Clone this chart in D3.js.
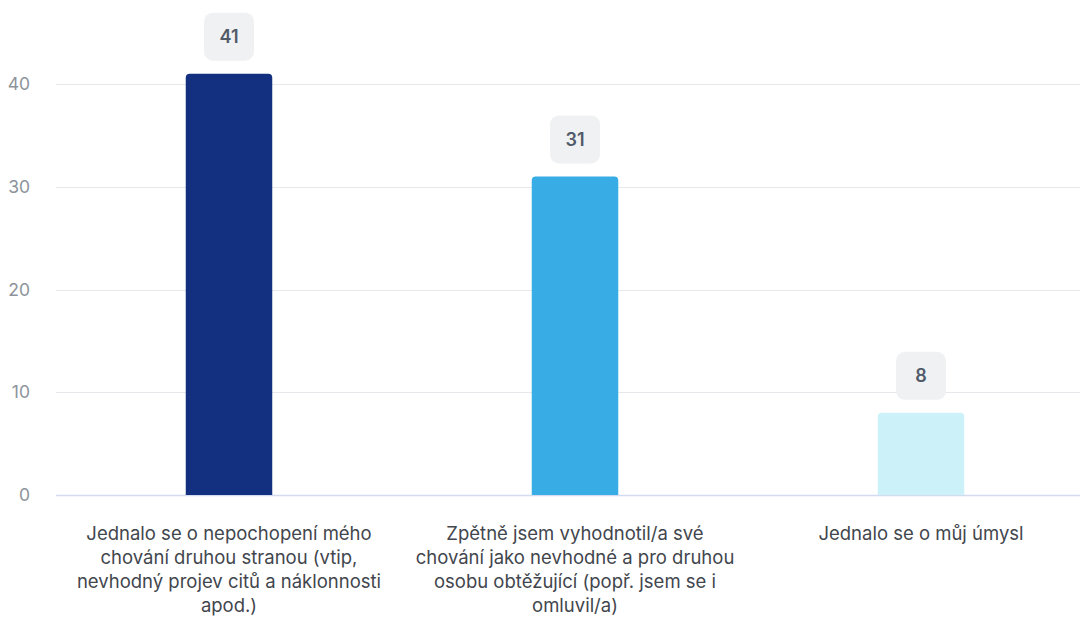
<!DOCTYPE html>
<html>
<head>
<meta charset="utf-8">
<script src="https://cdn.jsdelivr.net/npm/d3@7"></script>
<style>
body{margin:0;background:#fff;font-family:Inter,"Noto Sans",sans-serif}
</style>
</head>
<body>
<div id="chart"></div>
<script>
var categories=["Jednalo se o nepochopení mého chování druhou stranou (vtip, nevhodný projev citů a náklonnosti apod.)",
	"Zpětně jsem vyhodnotil/a své chování jako nevhodné a pro druhou osobu obtěžující (popř. jsem se i omluvil/a)",
	"Jednalo se o můj úmysl"]
var values=[41,31,8]
var colors=["#12307f","#38ace4","#cdf1f9"]
var yTicks=[0,10,20,30,40]

var W=1080,H=617
var m={left:56,right:-14,top:0,bottom:122}

var svg=d3.select("#chart").append("svg").attr("width",W).attr("height",H)

var x=d3.scaleBand().domain(categories).range([m.left,W-m.right]).paddingInner(0.75).paddingOuter(0.375)
var y=d3.scaleLinear().domain([0,40]).range([495,84])

// grid
svg.append("g").selectAll("line").data(yTicks).enter().append("line")
	.attr("x1",m.left).attr("x2",W)
	.attr("y1",function(d){return Math.round(y(d))+0.5}).attr("y2",function(d){return Math.round(y(d))+0.5})
	.attr("stroke",function(d){return d==0?"#d3dbef":"#e6e8eb"}).attr("stroke-width",function(d){return d==0?1.5:1})

var yAxis=svg.append("g").attr("transform","translate("+(m.left-23)+",0)")
	.call(d3.axisLeft(y).tickValues(yTicks).tickSize(0))
yAxis.select(".domain").remove()
yAxis.selectAll("text").attr("font-family","Inter,sans-serif").attr("font-size","17.5px").attr("fill","#8d939b").attr("text-anchor","end")

// bars, rounded top corners
var r=4
function barPath(d,i){
	var x0=x(categories[i]),w=x.bandwidth(),y0=y(d),y1=y(0)
	return "M"+x0+","+y1+"V"+(y0+r)+"Q"+x0+","+y0+" "+(x0+r)+","+y0+"H"+(x0+w-r)+"Q"+(x0+w)+","+y0+" "+(x0+w)+","+(y0+r)+"V"+y1+"Z"
}
svg.append("g").selectAll("path").data(values).enter().append("path")
	.attr("d",barPath).attr("fill",function(d,i){return colors[i]})

// value boxes
var lab=svg.append("g").selectAll("g").data(values).enter().append("g")
	.attr("transform",function(d,i){return "translate("+(x(categories[i])+x.bandwidth()/2)+","+(y(d)-37)+")"})
lab.append("rect").attr("x",-25).attr("y",-24).attr("width",50).attr("height",48).attr("rx",9).attr("ry",9).attr("fill","#eff1f2")
lab.append("text").text(function(d){return d}).attr("text-anchor","middle").attr("dy","0.36em")
	.attr("font-size","18px").attr("font-weight","600").attr("fill","#515a68")

// category labels
var cl=svg.append("g").selectAll("text").data(categories).enter().append("text")
	.attr("x",function(d){return x(d)+x.bandwidth()/2}).attr("y",540)
	.attr("text-anchor","middle").attr("font-size","18.5px").attr("fill","#42464d")
cl.each(function(d){
	var t=d3.select(this),words=d.split(" "),line=[]
	var ts=t.append("tspan").attr("x",t.attr("x")).attr("dy",0)
	words.forEach(function(w){
		line.push(w);ts.text(line.join(" "))
		if(ts.node().getComputedTextLength()>320&&line.length>1){
			line.pop();ts.text(line.join(" "));line=[w]
			ts=t.append("tspan").attr("x",t.attr("x")).attr("dy","24px").text(w)
		}
	})
})
</script>
</body>
</html>
